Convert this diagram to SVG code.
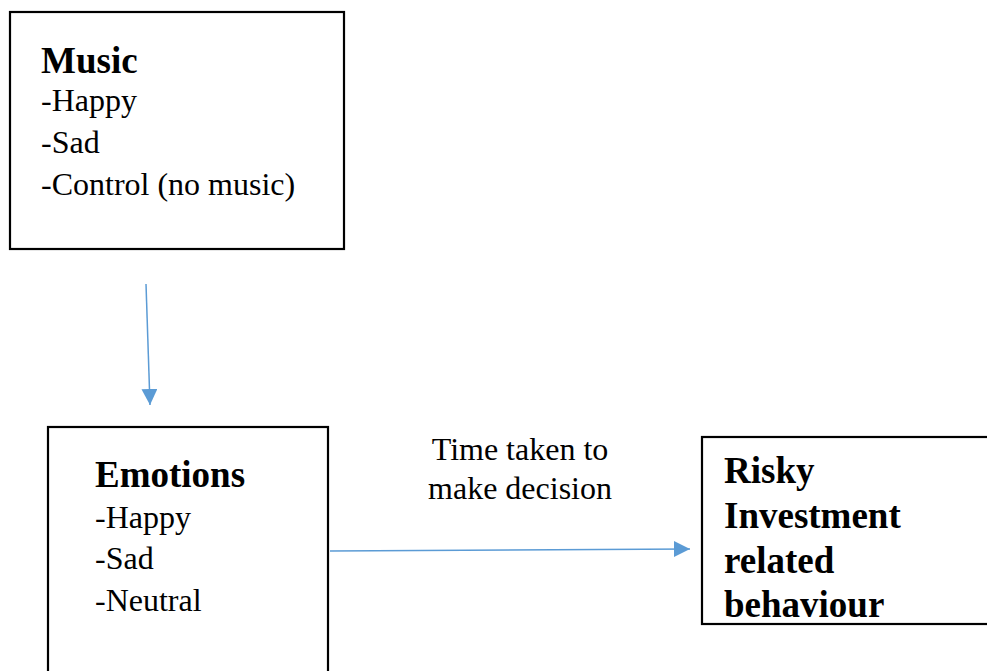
<svg xmlns="http://www.w3.org/2000/svg" width="987" height="671" viewBox="0 0 987 671">
<defs>
<style>
.box{fill:#fff;stroke:#000;stroke-width:2.2}
text{font-family:"Times New Roman","Liberation Serif",Tinos,serif;fill:#000}
.t{font-size:32px}
.b{font-size:37px;font-weight:bold}
.c{stroke:#5B9BD5;stroke-width:1.5;fill:none}
</style>
<marker id="ah" markerUnits="userSpaceOnUse" markerWidth="18" markerHeight="18" refX="16" refY="8" orient="auto">
<path d="M0,0 L16,8 L0,16 Z" fill="#5B9BD5"/>
</marker>
</defs>
<rect width="987" height="671" fill="#fff"/>
<g id="music">
<rect class="box" x="10" y="12" width="334" height="237"/>
<text class="b" x="41" y="73">Music</text>
<text class="t" x="41" y="111">-Happy</text>
<text class="t" x="41" y="153">-Sad</text>
<text class="t" x="41" y="195">-Control (no music)</text>
</g>
<g id="emotions">
<rect class="box" x="48" y="427" width="280" height="260"/>
<text class="b" x="95" y="487">Emotions</text>
<text class="t" x="95" y="528">-Happy</text>
<text class="t" x="95" y="569">-Sad</text>
<text class="t" x="95" y="611">-Neutral</text>
</g>
<g id="risky">
<rect class="box" x="702" y="437" width="300" height="187"/>
<text class="b" x="724" y="483">Risky</text>
<text class="b" x="724" y="528">Investment</text>
<text class="b" x="724" y="573">related</text>
<text class="b" x="724" y="617">behaviour</text>
</g>
<g id="label">
<text class="t" x="520" y="460" text-anchor="middle">Time taken to</text>
<text class="t" x="520" y="499" text-anchor="middle">make decision</text>
</g>
<g id="connectors">
<path class="c" d="M146,284 L150,405" marker-end="url(#ah)"/>
<path class="c" d="M330,551 L690,549" marker-end="url(#ah)"/>
</g>
</svg>
